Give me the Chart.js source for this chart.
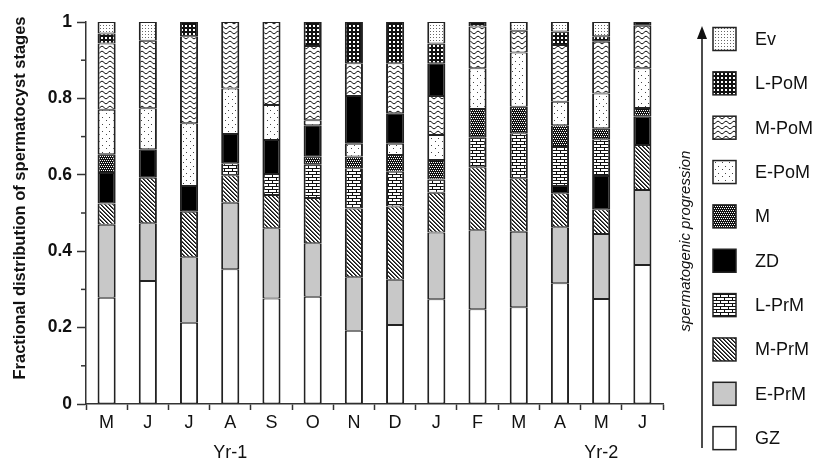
<!DOCTYPE html>
<html><head><meta charset="utf-8">
<script src="https://cdn.jsdelivr.net/npm/chart.js@4.4.1/dist/chart.umd.min.js"></script>
<style>html,body{margin:0;padding:0;background:#fff;}#wrap{width:816px;height:465px;}</style>
</head><body><div id="wrap"><canvas id="c" width="816" height="465"></canvas></div>
<script>
// ---- data (fractions) ----
const months = ['M','J','J','A','S','O','N','D','J','F','M','A','M','J'];
const yearLabels = ['','','','Yr-1','','','','','','','','','Yr-2',''];
const yTickValues = [0,0.2,0.4,0.6,0.8,1];
const yMinorTicks = [0.1,0.3,0.5,0.7,0.9];
const yTitle = 'Fractional distribution of spermatocyst stages';
const progressionText = 'spermatogenic progression';
const stageNames = ['GZ','E-PrM','M-PrM','L-PrM','ZD','M','E-PoM','M-PoM','L-PoM','Ev'];

const gz    = [0.278,0.322,0.213,0.353,0.276,0.281,0.192,0.207,0.274,0.248,0.253,0.316,0.275,0.364];
const ePrM  = [0.191,0.151,0.171,0.174,0.184,0.140,0.140,0.118,0.175,0.207,0.198,0.147,0.170,0.196];
const mPrM  = [0.056,0.119,0.119,0.072,0.087,0.118,0.180,0.192,0.104,0.165,0.140,0.089,0.065,0.118];
const lPrM  = [0,0,0,0.031,0.055,0.087,0.105,0.091,0.035,0.078,0.118,0.102,0.096,0];
const mStage= [0.049,0,0,0,0,0.021,0.031,0.044,0.051,0.074,0.069,0.057,0.029,0.023];
const ePoM  = [0.116,0.107,0.164,0.119,0.092,0.013,0.033,0.029,0.065,0.107,0.142,0.061,0.091,0.104];
const mPoM  = [0.174,0.177,0.228,0.174,0.217,0.194,0.086,0.131,0.102,0.109,0.057,0.149,0.135,0.111];
const lPoM  = [0.026,0,0.037,0,0,0.063,0.108,0.108,0.052,0.012,0,0.035,0.015,0.010];
const ev    = [0.030,0.049,0,0,0,0,0,0,0.056,0,0.023,0.025,0.037,0];
// ZD fractions, split by where the black block sits in each bar of the figure
const zdAboveMPrM = [0.080,0.075,0.068,0,0,0,0,0,0,0,0,0.019,0.087,0.074];
const zdAboveM    = [0,0,0,0.077,0.089,0.083,0,0,0,0,0,0,0,0];
const zdAboveEPoM = [0,0,0,0,0,0,0.125,0.080,0,0,0,0,0,0];
const zdAboveMPoM = [0,0,0,0,0,0,0,0,0.086,0,0,0,0,0];

// ---- patterns ----
function tile(w,h,draw){const c=document.createElement('canvas');c.width=w;c.height=h;const x=c.getContext('2d');draw(x);return document.getElementById('c').getContext('2d').createPattern(c,'repeat');}
const px=(x,a,b,col)=>{x.fillStyle=col;x.fillRect(a,b,1,1);};
const P = {
  'GZ':'#ffffff',
  'E-PrM':'#c8c8c8',
  'M-PrM':tile(4,4,x=>{x.fillStyle='#fff';x.fillRect(0,0,4,4);for(let i=0;i<4;i++){px(x,i,i,'#111');px(x,(i+1)%4,i,'#555');}}),
  'L-PrM':tile(8,6,x=>{x.fillStyle='#fff';x.fillRect(0,0,8,6);x.fillStyle='#111';x.fillRect(0,0,8,1);x.fillRect(0,3,8,1);x.fillRect(0,0,1,3);x.fillRect(4,3,1,3);}),
  'ZD':'#000000',
  'M':tile(4,4,x=>{x.fillStyle='#111';x.fillRect(0,0,4,4);px(x,0,0,'#fff');px(x,2,0,'#fff');px(x,1,2,'#fff');px(x,3,2,'#fff');}),
  'E-PoM':tile(7,7,x=>{x.fillStyle='#fff';x.fillRect(0,0,7,7);px(x,1,1,'#444');px(x,4,5,'#444');}),
  'M-PoM':tile(8,5,x=>{x.fillStyle='#fff';x.fillRect(0,0,8,5);x.strokeStyle='#111';x.lineWidth=1;x.beginPath();for(let i=-1;i<=9;i++){const y=2.5+1.3*Math.sin(i/8*2*Math.PI);if(i===-1)x.moveTo(i,y);else x.lineTo(i,y);}x.stroke();}),
  'L-PoM':tile(4,4,x=>{x.fillStyle='#111';x.fillRect(0,0,4,4);x.fillStyle='#fff';x.fillRect(1,1,2,2);}),
  'Ev':tile(3,3,x=>{x.fillStyle='#fff';x.fillRect(0,0,3,3);px(x,1,1,'#666');})
};

const layers = [
  ['GZ',gz],['E-PrM',ePrM],['M-PrM',mPrM],['ZD',zdAboveMPrM],
  ['L-PrM',lPrM],['M',mStage],['ZD',zdAboveM],['E-PoM',ePoM],
  ['ZD',zdAboveEPoM],['M-PoM',mPoM],['ZD',zdAboveMPoM],['L-PoM',lPoM],['Ev',ev]
];
const datasets = layers.map(([name,arr])=>({
  label:name,
  data:arr.map(v=>v>0?v:null),
  backgroundColor:P[name], borderColor:'#222',
  borderWidth:{top:1,bottom:1,left:2,right:2}, borderSkipped:false,
  barPercentage:0.44, categoryPercentage:1
}));

const FONT='"Liberation Sans", Arial, sans-serif';
const extras = {
  id:'extras',
  afterDraw(chart){
    const ctx=chart.ctx, y=chart.scales.y, area=chart.chartArea;
    ctx.save();
    // minor ticks on y axis
    ctx.strokeStyle='#333';ctx.lineWidth=1.5;
    yMinorTicks.forEach(v=>{const p=y.getPixelForValue(v);ctx.beginPath();ctx.moveTo(area.left-5,p);ctx.lineTo(area.left,p);ctx.stroke();});
    // y axis title
    ctx.save();ctx.translate(20,198);ctx.rotate(-Math.PI/2);
    ctx.font='bold 16.5px '+FONT;ctx.textAlign='center';ctx.textBaseline='middle';ctx.fillStyle='#111';
    ctx.fillText(yTitle,0,0);ctx.restore();
    // legend, top = last stage
    const names=stageNames.slice().reverse();
    names.forEach((n,i)=>{
      const cy=39+i*44.35, bx=713, bs=23;
      ctx.fillStyle=P[n];ctx.fillRect(bx,cy-bs/2,bs,bs);
      ctx.strokeStyle='#222';ctx.lineWidth=1.5;ctx.strokeRect(bx,cy-bs/2,bs,bs);
      ctx.fillStyle='#111';ctx.font='18px '+FONT;ctx.textAlign='left';ctx.textBaseline='middle';
      ctx.fillText(n,755,cy+1);
    });
    // progression arrow
    ctx.strokeStyle='#111';ctx.lineWidth=1.5;
    ctx.beginPath();ctx.moveTo(702,448);ctx.lineTo(702,36);ctx.stroke();
    ctx.fillStyle='#111';ctx.beginPath();ctx.moveTo(702,26);ctx.lineTo(697,39);ctx.lineTo(707,39);ctx.closePath();ctx.fill();
    ctx.translate(686,241);ctx.rotate(-Math.PI/2);
    ctx.font='italic 15px '+FONT;ctx.textAlign='center';ctx.textBaseline='middle';ctx.fillStyle='#111';
    ctx.fillText(progressionText,0,0);
    ctx.restore();
  }
};

new Chart(document.getElementById('c'),{
  type:'bar',
  data:{labels:months.map((m,i)=>yearLabels[i]?[m,yearLabels[i]]:m),datasets},
  options:{
    responsive:false,animation:false,devicePixelRatio:1,
    layout:{padding:{top:22,right:153,bottom:0,left:0}},
    plugins:{legend:{display:false},tooltip:{enabled:false}},
    scales:{
      x:{stacked:true,
        grid:{drawOnChartArea:false,drawTicks:true,tickLength:6,tickColor:'#333',tickWidth:1.5,offset:true},
        border:{display:true,color:'#333',width:1.5},
        ticks:{color:'#111',font:{family:FONT,size:18,lineHeight:1.65},padding:-2,maxRotation:0,autoSkip:false},
        afterFit:s=>{s.height=61;}
      },
      y:{stacked:true,min:0,max:1,
        afterBuildTicks:s=>{s.ticks=yTickValues.map(v=>({value:v}));},
        ticks:{color:'#111',font:{family:FONT,size:17.5,weight:'bold'},padding:5,callback:v=>String(+v.toFixed(1))},
        grid:{drawOnChartArea:false,tickLength:9,tickColor:'#333',tickWidth:1.5},
        border:{display:true,color:'#333',width:1.5},
        title:{display:false},
        afterFit:s=>{s.width=86;}
      }
    }
  },
  plugins:[extras]
});
</script></body></html>
